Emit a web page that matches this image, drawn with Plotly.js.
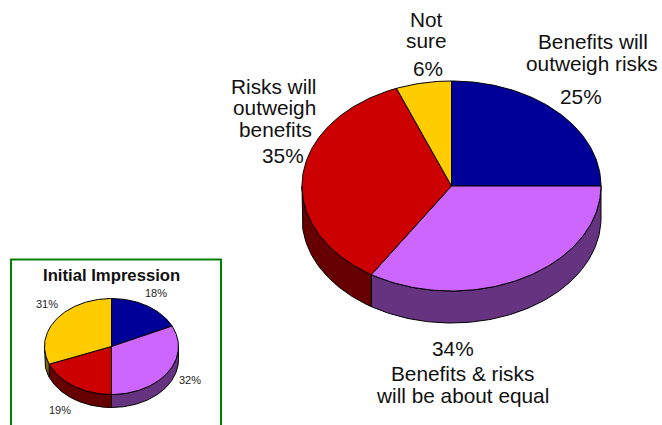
<!DOCTYPE html>
<html><head><meta charset="utf-8">
<script src="https://cdn.plot.ly/plotly-3.0.1.min.js"></script>
<style>html,body{margin:0;padding:0;background:#fff}#c{width:662px;height:425px}</style>
</head><body><div id="c"></div>
<script>
const categories = ["Benefits will outweigh risks","Benefits & risks will be about equal","Risks will outweigh benefits","Not sure"];
const currentValues = [25,34,35,6];
const initialCategories = ["Benefits will outweigh risks","Benefits & risks will be about equal","Risks will outweigh benefits","Not sure"];
const initialValues = [18,32,19,31];
const topColors = ["#000099","#cc66ff","#cc0000","#ffcc00"];
const sideColors = ["#000066","#663380","#660000","#806600"];
const initialTitle = "Initial Impression";

const FONT = "Liberation Sans, Arial, sans-serif";
const bigPie = {cx:451.5, cy:186, rx:149.5, ry:105, depth:32};
const smallPie = {cx:111.5, cy:346.5, rx:67, ry:48, depth:13};

function pt(p, deg, dy){
  const a = deg*Math.PI/180;
  return [p.cx + p.rx*Math.sin(a), p.cy - p.ry*Math.cos(a) + (dy||0)];
}
function arc(p, a0, a1, dy){
  const n = Math.max(2, Math.ceil(Math.abs(a1-a0)));
  const out = [];
  for(let i=0;i<=n;i++) out.push(pt(p, a0+(a1-a0)*i/n, dy));
  return out;
}
function poly(points, fill, name){
  return {type:"scatter", mode:"lines", name:name, x:points.map(q=>q[0]), y:points.map(q=>q[1]),
    fill:"toself", fillcolor:fill, line:{color:"#000", width:1}, hoverinfo:"skip", showlegend:false};
}
function pieTraces(p, values, names){
  const total = values.reduce((s,v)=>s+v,0);
  const sides = [], tops = [];
  let acc = 0;
  values.forEach((v,i)=>{
    const a0 = acc/total*360, a1 = (acc+v)/total*360;
    acc += v;
    const s0 = Math.max(a0,90), s1 = Math.min(a1,270);
    if(s1 > s0){
      const upper = arc(p,s0,s1,0), lower = arc(p,s1,s0,p.depth);
      sides.push(poly(upper.concat(lower,[upper[0]]), sideColors[i], names[i]));
    }
    const rim = arc(p,a0,a1,0);
    tops.push(poly([[p.cx,p.cy]].concat(rim,[[p.cx,p.cy]]), topColors[i], names[i]));
  });
  return sides.concat(tops);
}

const labelLines = [
  ["Not",426,19],["sure",426,40.5],[currentValues[3]+"%",428,68],
  ["Benefits will",592.5,41.5],["outweigh risks",592,63],[currentValues[0]+"%",581,96],
  ["Risks will",274,86],["outweigh",274,107.5],["benefits",275,129],[currentValues[2]+"%",283,155],
  [currentValues[1]+"%",453,348],["Benefits & risks",462,373.5],["will be about equal",462.5,395]
];
const smallLabels = [
  [initialValues[0]+"%",156,293],[initialValues[1]+"%",190,380],
  [initialValues[2]+"%",60,410],[initialValues[3]+"%",47,304]
];
function ann(t,x,y,size,bold,color){
  return {text:bold?"<b>"+t+"</b>":t, x:x, y:y, xref:"x", yref:"y", showarrow:false,
    xanchor:"center", yanchor:"middle", font:{family:FONT,size:size,color:color||"#000"}};
}
const annotations = labelLines.map(l=>ann(l[0],l[1],l[2],20.8,false,"#111"))
  .concat(smallLabels.map(l=>ann(l[0],l[1],l[2],11,false,"#222")))
  .concat([ann(initialTitle,111.5,275,16.7,true,"#111")]);

const layout = {
  width:662, height:425, margin:{l:0,r:0,t:0,b:0},
  paper_bgcolor:"#fff", plot_bgcolor:"#fff", showlegend:false, hovermode:false,
  xaxis:{range:[0,662], visible:false, fixedrange:true},
  yaxis:{range:[425,0], visible:false, fixedrange:true},
  shapes:[{type:"rect", xref:"x", yref:"y", x0:11, x1:221, y0:259.5, y1:440, line:{color:"#008000",width:2}, fillcolor:"rgba(0,0,0,0)", layer:"below"}],
  annotations:annotations
};
Plotly.newPlot("c", pieTraces(bigPie,currentValues,categories).concat(pieTraces(smallPie,initialValues,initialCategories)), layout, {displayModeBar:false, staticPlot:true});
</script></body></html>
